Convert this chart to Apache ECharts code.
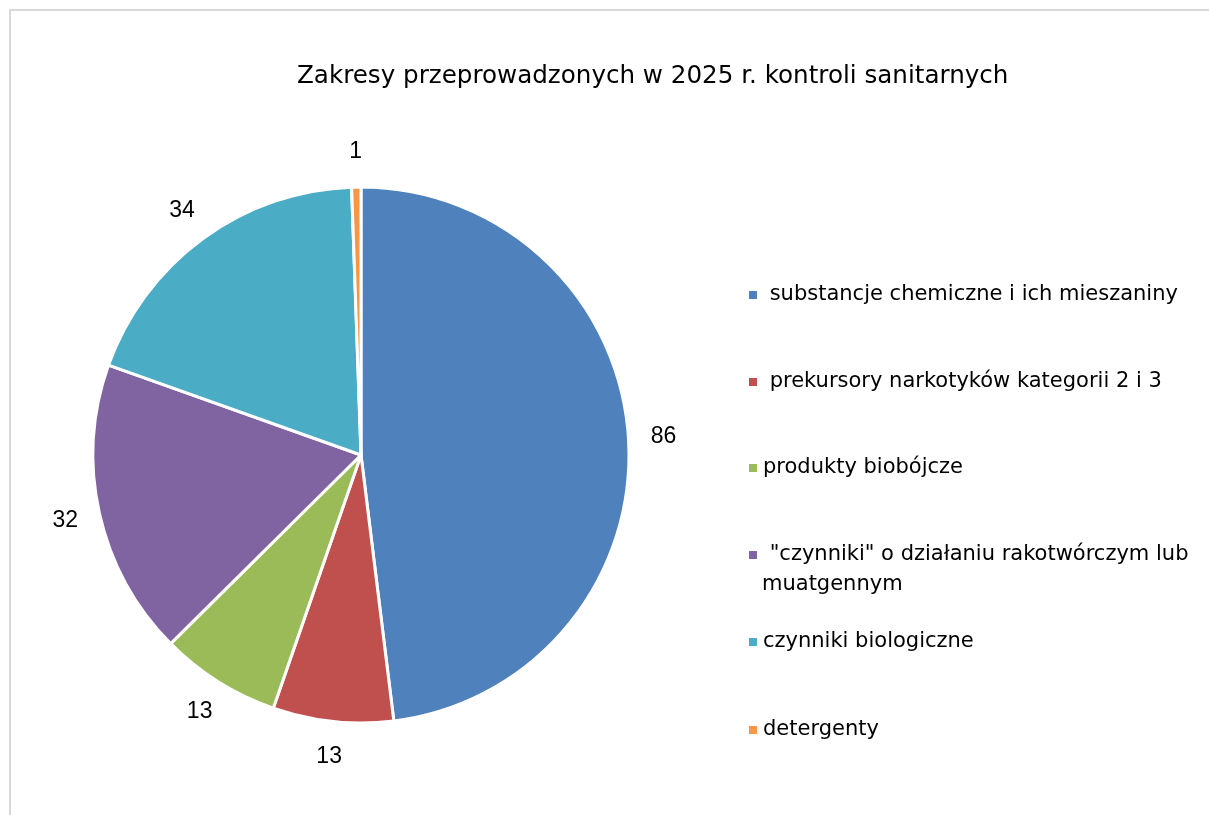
<!DOCTYPE html>
<html><head><meta charset="utf-8">
<script src="https://cdn.jsdelivr.net/npm/echarts@6/dist/echarts.min.js"></script>
<style>html,body{margin:0;padding:0;background:#fff}#c{width:1209px;height:815px}</style>
</head><body><div id="c"></div>
<script>
const titleText = 'Zakresy przeprowadzonych w 2025 r. kontroli sanitarnych';
const categories = [
  ' substancje chemiczne i ich mieszaniny',
  ' prekursory narkotyków kategorii 2 i 3',
  'produkty biobójcze',
  ' "czynniki" o działaniu rakotwórczym lub muatgennym',
  'czynniki biologiczne',
  'detergenty'
];
const values = [86, 13, 13, 32, 34, 1];
const colors = ['#4F81BD', '#C0504D', '#9BBB59', '#8064A2', '#4BACC6', '#F79646'];
const legendTops = [295, 382, 468, 555, 642, 730];

const chart = echarts.init(document.getElementById('c'));
const font = 'Liberation Sans, Arial, sans-serif';
const wideFont = 'DejaVu Sans, sans-serif';
const legends = categories.map((name, i) => ({
  data: [name],
  left: 747,
  top: legendTops[i] - 12,
  padding: 0,
  orient: 'vertical',
  icon: 'rect',
  itemWidth: 10,
  itemHeight: 10,
  selectedMode: false,
  textStyle: { fontFamily: wideFont, fontSize: 21, color: '#000', padding: [0,0,0,0], lineHeight: 24 },
  formatter: n => i === 3 ? ' "czynniki" o działaniu rakotwórczym lub' : n
}));

const pieData = categories.map((n, i) => ({ name: n, value: values[i] }));

chart.setOption({
  animation: false,
  color: colors,
  title: {
    text: titleText, left: 292, top: 59,
    textStyle: { fontFamily: wideFont, fontSize: 24.6, fontWeight: 'normal', color: '#000' }
  },
  legend: legends,
  graphic: [
    { type: 'rect', shape: { x: 10, y: 10, width: 1400, height: 1000 }, style: { fill: 'none', stroke: '#d9d9d9', lineWidth: 2 }, silent: true },
    { type: 'text', left: 762, top: 574, style: { text: 'muatgennym', font: '21px DejaVu Sans, sans-serif', fill: '#000' } }
  ],
  series: [{
    type: 'pie',
    center: [361, 455],
    radius: [0, 268],
    startAngle: 90,
    clockwise: true,
    avoidLabelOverlap: false,
    itemStyle: { borderColor: '#fff', borderWidth: 3 },
    label: { show: false },
    labelLine: { show: false },
    emphasis: { disabled: true },
    data: pieData
  }, {
    type: 'pie',
    center: [361, 455],
    radius: [268, 332],
    startAngle: 90,
    clockwise: true,
    silent: true,
    avoidLabelOverlap: false,
    itemStyle: { color: 'rgba(0,0,0,0)', borderWidth: 0 },
    label: { show: true, position: 'inside', formatter: '{c}', fontFamily: font, fontSize: 23, color: '#000' },
    labelLine: { show: false },
    emphasis: { disabled: true },
    data: pieData
  }]
});
</script></body></html>
